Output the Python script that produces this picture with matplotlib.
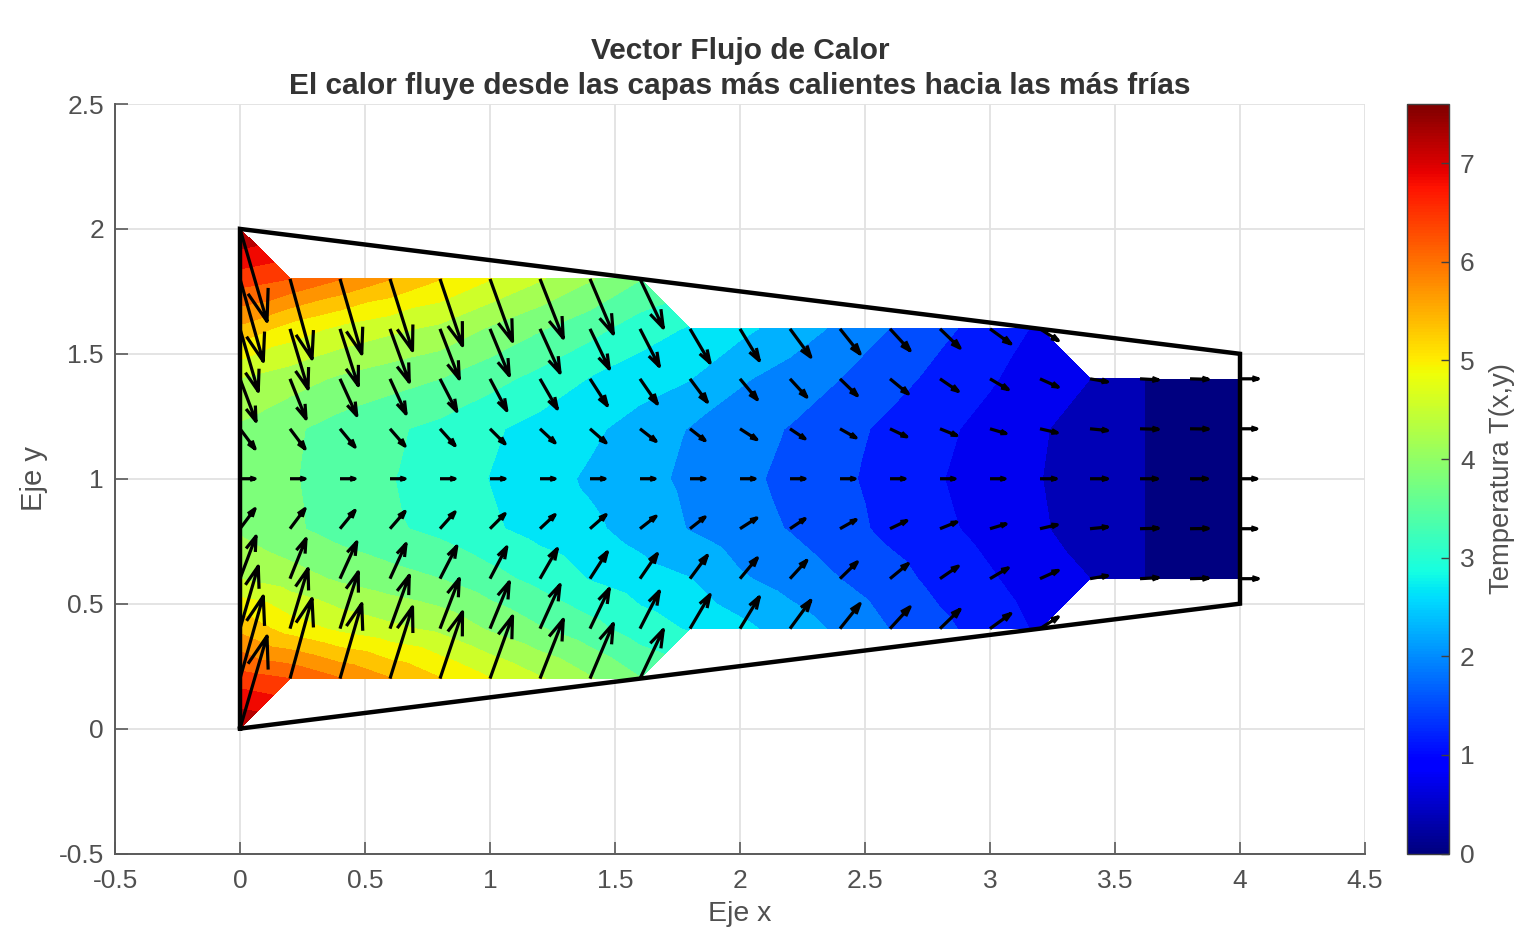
import numpy as np
import matplotlib
matplotlib.use("Agg")
import matplotlib.pyplot as plt
from matplotlib.tri import Triangulation
from matplotlib.cm import ScalarMappable
from matplotlib.colors import Normalize

plt.rcParams['font.family'] = ['Liberation Sans', 'DejaVu Sans']
n = float('nan')

x_nodes = [0.0, 0.2, 0.4, 0.6, 0.8, 1.0, 1.2, 1.4, 1.6, 1.8, 2.0, 2.2, 2.4, 2.6, 2.8, 3.0, 3.2, 3.4, 3.6, 3.8, 4.0]
y_upper = [1.0, 1.2, 1.4, 1.6, 1.8, 2.0]

T_10 = [4.05, 3.84, 3.63, 3.44, 3.24, 3.03, 2.82, 2.60, 2.40, 2.20, 1.99, 1.81, 1.60, 1.37, 1.16, 0.95, 0.77, 0.58, 0.40, 0.20, 0.0]
T_12 = [4.12, 3.87, 3.64, 3.48, 3.32, 3.10, 2.90, 2.74, 2.50, 2.26, 2.05, 1.88, 1.67, 1.42, 1.22, 1.02, 0.80, 0.59, 0.40, 0.20, 0.0]
T_14 = [4.55, 4.35, 4.12, 3.95, 3.80, 3.55, 3.30, 3.02, 2.83, 2.67, 2.33, 2.12, 1.90, 1.67, 1.40, 1.18, 0.95, 0.76, 0.40, 0.20, 0.0]
T_16 = [5.60, 5.15, 4.85, 4.65, 4.47, 4.13, 3.83, 3.55, 3.22, 3.00, 2.76, 2.49, 2.20, 1.89, 1.61, 1.35, 1.08, n, n, n, n]
T_18 = [6.65, 6.46, 6.10, 5.72, 5.34, 4.96, 4.60, 4.22, 3.82, n, n, n, n, n, n, n, n, n, n, n, n]
T_20 = [7.60, n, n, n, n, n, n, n, n, n, n, n, n, n, n, n, n, n, n, n, n]

U_10 = [0.06, 0.06, 0.06, 0.06, 0.06, 0.06, 0.06, 0.06, 0.06, 0.06, 0.06, 0.06, 0.06, 0.06, 0.06, 0.06, 0.065, 0.07, 0.07, 0.07, 0.067]
U_12 = [0.06, 0.06, 0.06, 0.06, 0.06, 0.06, 0.06, 0.064, 0.064, 0.06, 0.067, 0.06, 0.064, 0.067, 0.067, 0.064, 0.069, 0.07, 0.073, 0.073, 0.067]
U_14 = [0.064, 0.064, 0.067, 0.064, 0.067, 0.067, 0.069, 0.069, 0.069, 0.069, 0.069, 0.067, 0.069, 0.073, 0.073, 0.073, 0.073, 0.07, 0.073, 0.073, 0.073]
U_16 = [0.073, 0.072, 0.073, 0.077, 0.077, 0.077, 0.08, 0.077, 0.077, 0.08, 0.077, 0.083, 0.08, 0.08, 0.08, 0.083, 0.073, n, n, n, n]
U_18 = [0.093, 0.088, 0.087, 0.09, 0.09, 0.09, 0.093, 0.093, 0.093, n, n, n, n, n, n, n, n, n, n, n, n]
U_20 = [0.108, n, n, n, n, n, n, n, n, n, n, n, n, n, n, n, n, n, n, n, n]

V_10 = [0.0] * 21
V_12 = [-0.08, -0.08, -0.073, -0.069, -0.067, -0.06, -0.056, -0.056, -0.05, -0.047, -0.043, -0.04, -0.036, -0.032, -0.027, -0.019, -0.016, -0.007, -0.002, -0.001, 0.0]
V_14 = [-0.17, -0.16, -0.147, -0.14, -0.13, -0.127, -0.12, -0.107, -0.10, -0.093, -0.083, -0.073, -0.067, -0.06, -0.05, -0.043, -0.033, -0.012, -0.004, -0.002, 0.0]
V_16 = [-0.25, -0.24, -0.227, -0.213, -0.2, -0.187, -0.176, -0.16, -0.15, -0.136, -0.127, -0.113, -0.1, -0.087, -0.077, -0.06, -0.047, n, n, n, n]
V_18 = [-0.33, -0.32, -0.30, -0.287, -0.267, -0.25, -0.237, -0.22, -0.196, n, n, n, n, n, n, n, n, n, n, n, n]
V_20 = [-0.37, n, n, n, n, n, n, n, n, n, n, n, n, n, n, n, n, n, n, n, n]

outline_x = [0, 4, 4, 0, 0]
outline_y = [0, 0.5, 1.5, 2, 0]
T_max = 7.6
n_bands = 20
x_ticks = [-0.5, 0, 0.5, 1, 1.5, 2, 2.5, 3, 3.5, 4, 4.5]
y_ticks = [-0.5, 0, 0.5, 1, 1.5, 2, 2.5]
cb_ticks = [0, 1, 2, 3, 4, 5, 6, 7]
fmt = lambda v: f"{v:g}"

# Assemble full grid: the field is mirrored about y = 1
up_T = np.array([T_10, T_12, T_14, T_16, T_18, T_20])
up_U = np.array([U_10, U_12, U_14, U_16, U_18, U_20])
up_V = np.array([V_10, V_12, V_14, V_16, V_18, V_20])
T = np.vstack([up_T[:0:-1], up_T])
U = np.vstack([up_U[:0:-1], up_U])
V = np.vstack([-up_V[:0:-1], up_V])
ys = np.concatenate([2 - np.array(y_upper[:0:-1]), y_upper])
xs = np.array(x_nodes)
X, Y = np.meshgrid(xs, ys)

W, H = 1521, 927
fig = plt.figure(figsize=(W / 100, H / 100), dpi=100)
ax = fig.add_axes([115 / W, 1 - 853.5 / H, 1250 / W, 749.5 / H])
cax = fig.add_axes([1407 / W, 1 - 853.5 / H, 42 / W, 749.5 / H])

# Triangles from grid cells that have at least three valid corners
valid = ~np.isnan(T)
idx = np.arange(T.size).reshape(T.shape)
tris = []
for j in range(T.shape[0] - 1):
    for i in range(T.shape[1] - 1):
        c = [(j, i), (j, i + 1), (j + 1, i + 1), (j + 1, i)]
        v = [idx[p] for p in c if valid[p]]
        if len(v) == 4:
            tris += [[v[0], v[1], v[2]], [v[0], v[2], v[3]]]
        elif len(v) == 3:
            tris.append(v)
mask = valid.ravel()
remap = -np.ones(T.size, int)
remap[mask] = np.arange(mask.sum())
tri = Triangulation(X.ravel()[mask], Y.ravel()[mask], remap[np.array(tris)])

ax.grid(True, color='#e2e2e2', lw=1.3)
ax.set_axisbelow(True)
levels = np.linspace(0, T_max, n_bands + 1)
# each band takes the colour of its lower level, as MATLAB's contourf does
jet = plt.get_cmap('jet')
band_colors = [jet(l / T_max) for l in levels[:-1]]
ax.tricontourf(tri, T.ravel()[mask], levels=levels, colors=band_colors, zorder=2)
ax.plot(outline_x, outline_y, color='black', lw=3.2, zorder=3, solid_joinstyle='miter')

# Arrows with MATLAB-style heads proportional to their length
a, b = 0.33, 0.33
px, py = [], []
for x0, y0, u, v in zip(X.ravel(), Y.ravel(), U.ravel(), V.ravel()):
    if np.isnan(u):
        continue
    px += [x0, x0 + u, n, x0 + u - a * (u + b * v), x0 + u, x0 + u - a * (u - b * v), n]
    py += [y0, y0 + v, n, y0 + v - a * (v - b * u), y0 + v, y0 + v - a * (v + b * u), n]
ax.plot(px, py, color='black', lw=2.3, zorder=4, solid_capstyle='butt')

ax.set_xlim(-0.5, 4.5)
ax.set_ylim(-0.5, 2.5)
ax.set_xticks(x_ticks, [fmt(v) for v in x_ticks])
ax.set_yticks(y_ticks, [fmt(v) for v in y_ticks])
for s in ('top', 'right'):
    ax.spines[s].set_visible(False)
for s in ('left', 'bottom'):
    ax.spines[s].set_color('#5a5a5a')
    ax.spines[s].set_linewidth(1.4)
ax.tick_params(direction='in', length=9, width=1.2, color='#5a5a5a', labelcolor='#505050', labelsize=19)
ax.tick_params(axis='x', pad=11)
ax.tick_params(axis='y', pad=8)
ax.set_xlabel('Eje x', fontsize=20.5, color='#505050', labelpad=6)
ax.set_ylabel('Eje y', fontsize=21, color='#505050', labelpad=8)
ax.set_title('Vector Flujo de Calor\nEl calor fluye desde las capas más calientes hacia las más frías',
             fontsize=21.5, fontweight='bold', color='#333333', pad=7.5, linespacing=1.3)

cb = fig.colorbar(ScalarMappable(Normalize(0, T_max), 'jet'), cax=cax)
cb.set_ticks(cb_ticks)
cb.ax.tick_params(direction='in', length=6, width=1, color='#404040', labelcolor='#505050',
                  labelsize=19, pad=8)
cb.outline.set_edgecolor('#404040')
cb.outline.set_linewidth(1.0)
cb.set_label('Temperatura T(x,y)', fontsize=19.7, color='#505050', labelpad=10)

fig.savefig('out.png', dpi=100)
